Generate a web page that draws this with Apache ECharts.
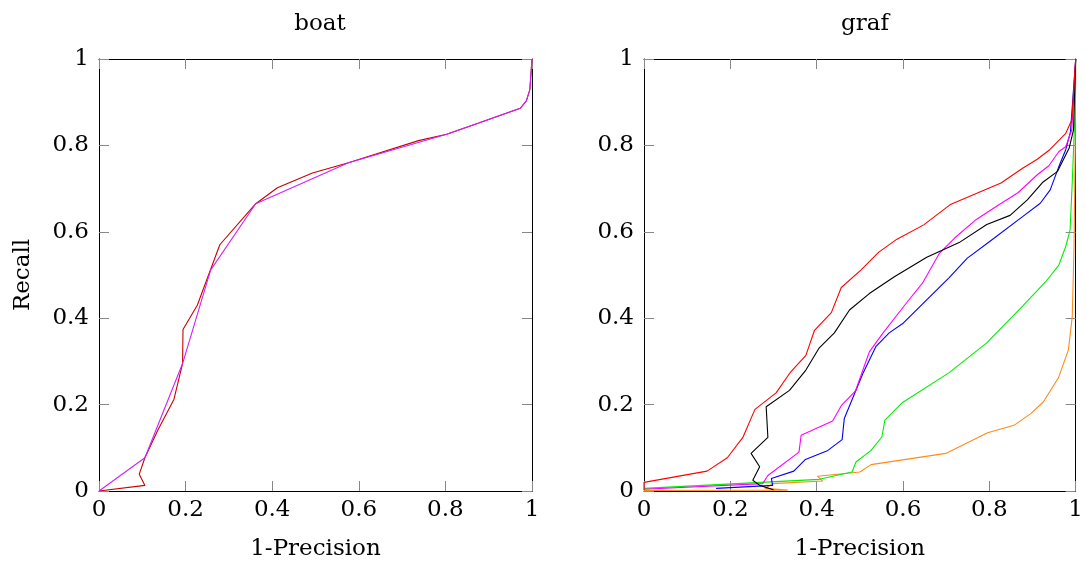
<!DOCTYPE html>
<html>
<head>
<meta charset="utf-8">
<script src="https://cdn.jsdelivr.net/npm/echarts@6/dist/echarts.min.js"></script>
<style>
html,body{margin:0;padding:0;background:#fff;}
#main{width:1086px;height:567px;}
</style>
</head>
<body>
<div id="main"></div>
<script>
// boat: 左图两组几乎重合的曲线
var boatDark = [[0,0],[0.106,0.013],[0.093,0.039],[0.106,0.077],[0.136,0.141],[0.173,0.212],[0.193,0.295],[0.194,0.374],[0.227,0.430],[0.279,0.570],[0.362,0.665],[0.412,0.702],[0.493,0.736],[0.576,0.760],[0.738,0.811],[0.803,0.826],[0.877,0.852],[0.973,0.886],[0.987,0.903],[0.995,0.929],[1,1]];
var boatPurple = [[0,0],[0.106,0.077],[0.193,0.295],[0.258,0.512],[0.362,0.665],[0.576,0.760],[0.803,0.826],[0.877,0.852],[0.973,0.886],[0.987,0.903],[0.995,0.929],[1,1]];

// graf: 右图六条曲线
var grafRed = [[0,0.002],[0,0.020],[0.146,0.046],[0.193,0.077],[0.229,0.124],[0.257,0.189],[0.306,0.227],[0.340,0.276],[0.375,0.314],[0.395,0.372],[0.434,0.413],[0.457,0.471],[0.503,0.512],[0.544,0.553],[0.586,0.583],[0.648,0.616],[0.711,0.664],[0.827,0.713],[0.877,0.747],[0.911,0.768],[0.940,0.790],[0.977,0.828],[0.991,0.859],[1,1]];
var grafBlack = [[0.300,0.003],[0.268,0.013],[0.252,0.025],[0.268,0.056],[0.248,0.087],[0.287,0.124],[0.283,0.195],[0.337,0.233],[0.375,0.280],[0.405,0.330],[0.441,0.366],[0.476,0.419],[0.522,0.457],[0.580,0.496],[0.655,0.541],[0.730,0.575],[0.794,0.617],[0.848,0.638],[0.888,0.674],[0.923,0.714],[0.958,0.740],[0.985,0.794],[0.995,0.836],[1,1]];
var grafBlue = [[0.167,0.006],[0.298,0.013],[0.295,0.029],[0.347,0.046],[0.374,0.073],[0.426,0.094],[0.459,0.119],[0.464,0.168],[0.507,0.272],[0.537,0.334],[0.568,0.366],[0.601,0.389],[0.707,0.494],[0.749,0.539],[0.800,0.577],[0.877,0.635],[0.918,0.666],[0.941,0.697],[0.961,0.751],[0.977,0.790],[0.988,0.832],[1,1]];
var grafMagenta = [[0,0.004],[0.275,0.017],[0.287,0.036],[0.359,0.090],[0.364,0.129],[0.437,0.162],[0.458,0.199],[0.490,0.232],[0.522,0.322],[0.553,0.365],[0.607,0.434],[0.645,0.481],[0.684,0.550],[0.719,0.585],[0.769,0.628],[0.815,0.658],[0.867,0.691],[0.911,0.732],[0.938,0.753],[0.961,0.786],[0.977,0.797],[0.991,0.836],[1,1]];
var grafGreen = [[0,0.006],[0.406,0.027],[0.482,0.044],[0.491,0.067],[0.526,0.094],[0.551,0.125],[0.558,0.164],[0.599,0.205],[0.707,0.274],[0.794,0.343],[0.877,0.428],[0.931,0.485],[0.961,0.523],[0.977,0.566],[0.987,0.604],[0.992,0.713],[0.998,0.867],[1,1]];
var grafOrange = [[0,0.001],[0.333,0.002],[0.280,0.006],[0.298,0.017],[0.414,0.023],[0.402,0.034],[0.500,0.044],[0.526,0.061],[0.699,0.087],[0.796,0.135],[0.857,0.152],[0.896,0.179],[0.925,0.206],[0.960,0.262],[0.983,0.326],[0.992,0.403],[0.996,0.558],[0.999,0.800],[1,1]];

var fontName = '"DejaVu Serif", "Liberation Serif", serif';

var chart = echarts.init(document.getElementById('main'));

function xAxisFor(gi, bottom) {
	return {
		type: 'value', gridIndex: gi, min: 0, max: 1, interval: 0.2,
		position: bottom ? 'bottom' : 'top',
		name: bottom ? '1-Precision' : '',
		nameLocation: 'middle', nameGap: 47,
		nameTextStyle: {fontFamily: fontName, fontSize: 23, color: '#000'},
		axisLine: {show: true, onZero: false, lineStyle: {color: '#000', width: 1}},
		axisTick: {show: true, inside: true, length: 10, lineStyle: {color: '#888'}},
		axisLabel: {show: bottom, fontFamily: fontName, fontSize: 23, color: '#000', margin: 8},
		splitLine: {show: false}
	};
}

function yAxisFor(gi, left, withName) {
	return {
		type: 'value', gridIndex: gi, min: 0, max: 1, interval: 0.2,
		position: left ? 'left' : 'right',
		name: withName ? 'Recall' : '',
		nameLocation: 'middle', nameGap: 64, nameRotate: 90,
		nameTextStyle: {fontFamily: fontName, fontSize: 23, color: '#000'},
		axisLine: {show: true, onZero: false, lineStyle: {color: '#000', width: 1}},
		axisTick: {show: true, inside: true, length: 10, lineStyle: {color: '#888'}},
		axisLabel: {show: left, fontFamily: fontName, fontSize: 23, color: '#000', margin: 10},
		splitLine: {show: false}
	};
}

function lineSeries(data, color, xi, yi) {
	return {
		type: 'line', data: data, xAxisIndex: xi, yAxisIndex: yi,
		showSymbol: false, symbol: 'none',
		lineStyle: {color: color, width: 1.1},
		animation: false
	};
}

var option = {
	backgroundColor: '#fff',
	animation: false,
	title: [
		{text: 'boat', left: 315, top: 8, textAlign: 'center', textStyle: {fontFamily: fontName, fontSize: 23, fontWeight: 'normal', color: '#000'}},
		{text: 'graf', left: 860, top: 8, textAlign: 'center', textStyle: {fontFamily: fontName, fontSize: 23, fontWeight: 'normal', color: '#000'}}
	],
	grid: [
		{left: 99, width: 433, top: 59, height: 432},
		{left: 644, width: 433, top: 59, height: 432}
	],
	xAxis: [xAxisFor(0, true), xAxisFor(0, false), xAxisFor(1, true), xAxisFor(1, false)],
	yAxis: [yAxisFor(0, true, true), yAxisFor(0, false, false), yAxisFor(1, true, false), yAxisFor(1, false, false)],
	series: [
		lineSeries(boatDark, '#c80000', 0, 0),
		lineSeries(boatPurple, '#cc22ff', 0, 0),
		lineSeries(grafOrange, '#ff8a1a', 2, 2),
		lineSeries(grafGreen, '#00ee00', 2, 2),
		lineSeries(grafBlue, '#0000ff', 2, 2),
		lineSeries(grafMagenta, '#ff00ff', 2, 2),
		lineSeries(grafBlack, '#000000', 2, 2),
		lineSeries(grafRed, '#ff0000', 2, 2)
	]
};

chart.setOption(option);
</script>
</body>
</html>
